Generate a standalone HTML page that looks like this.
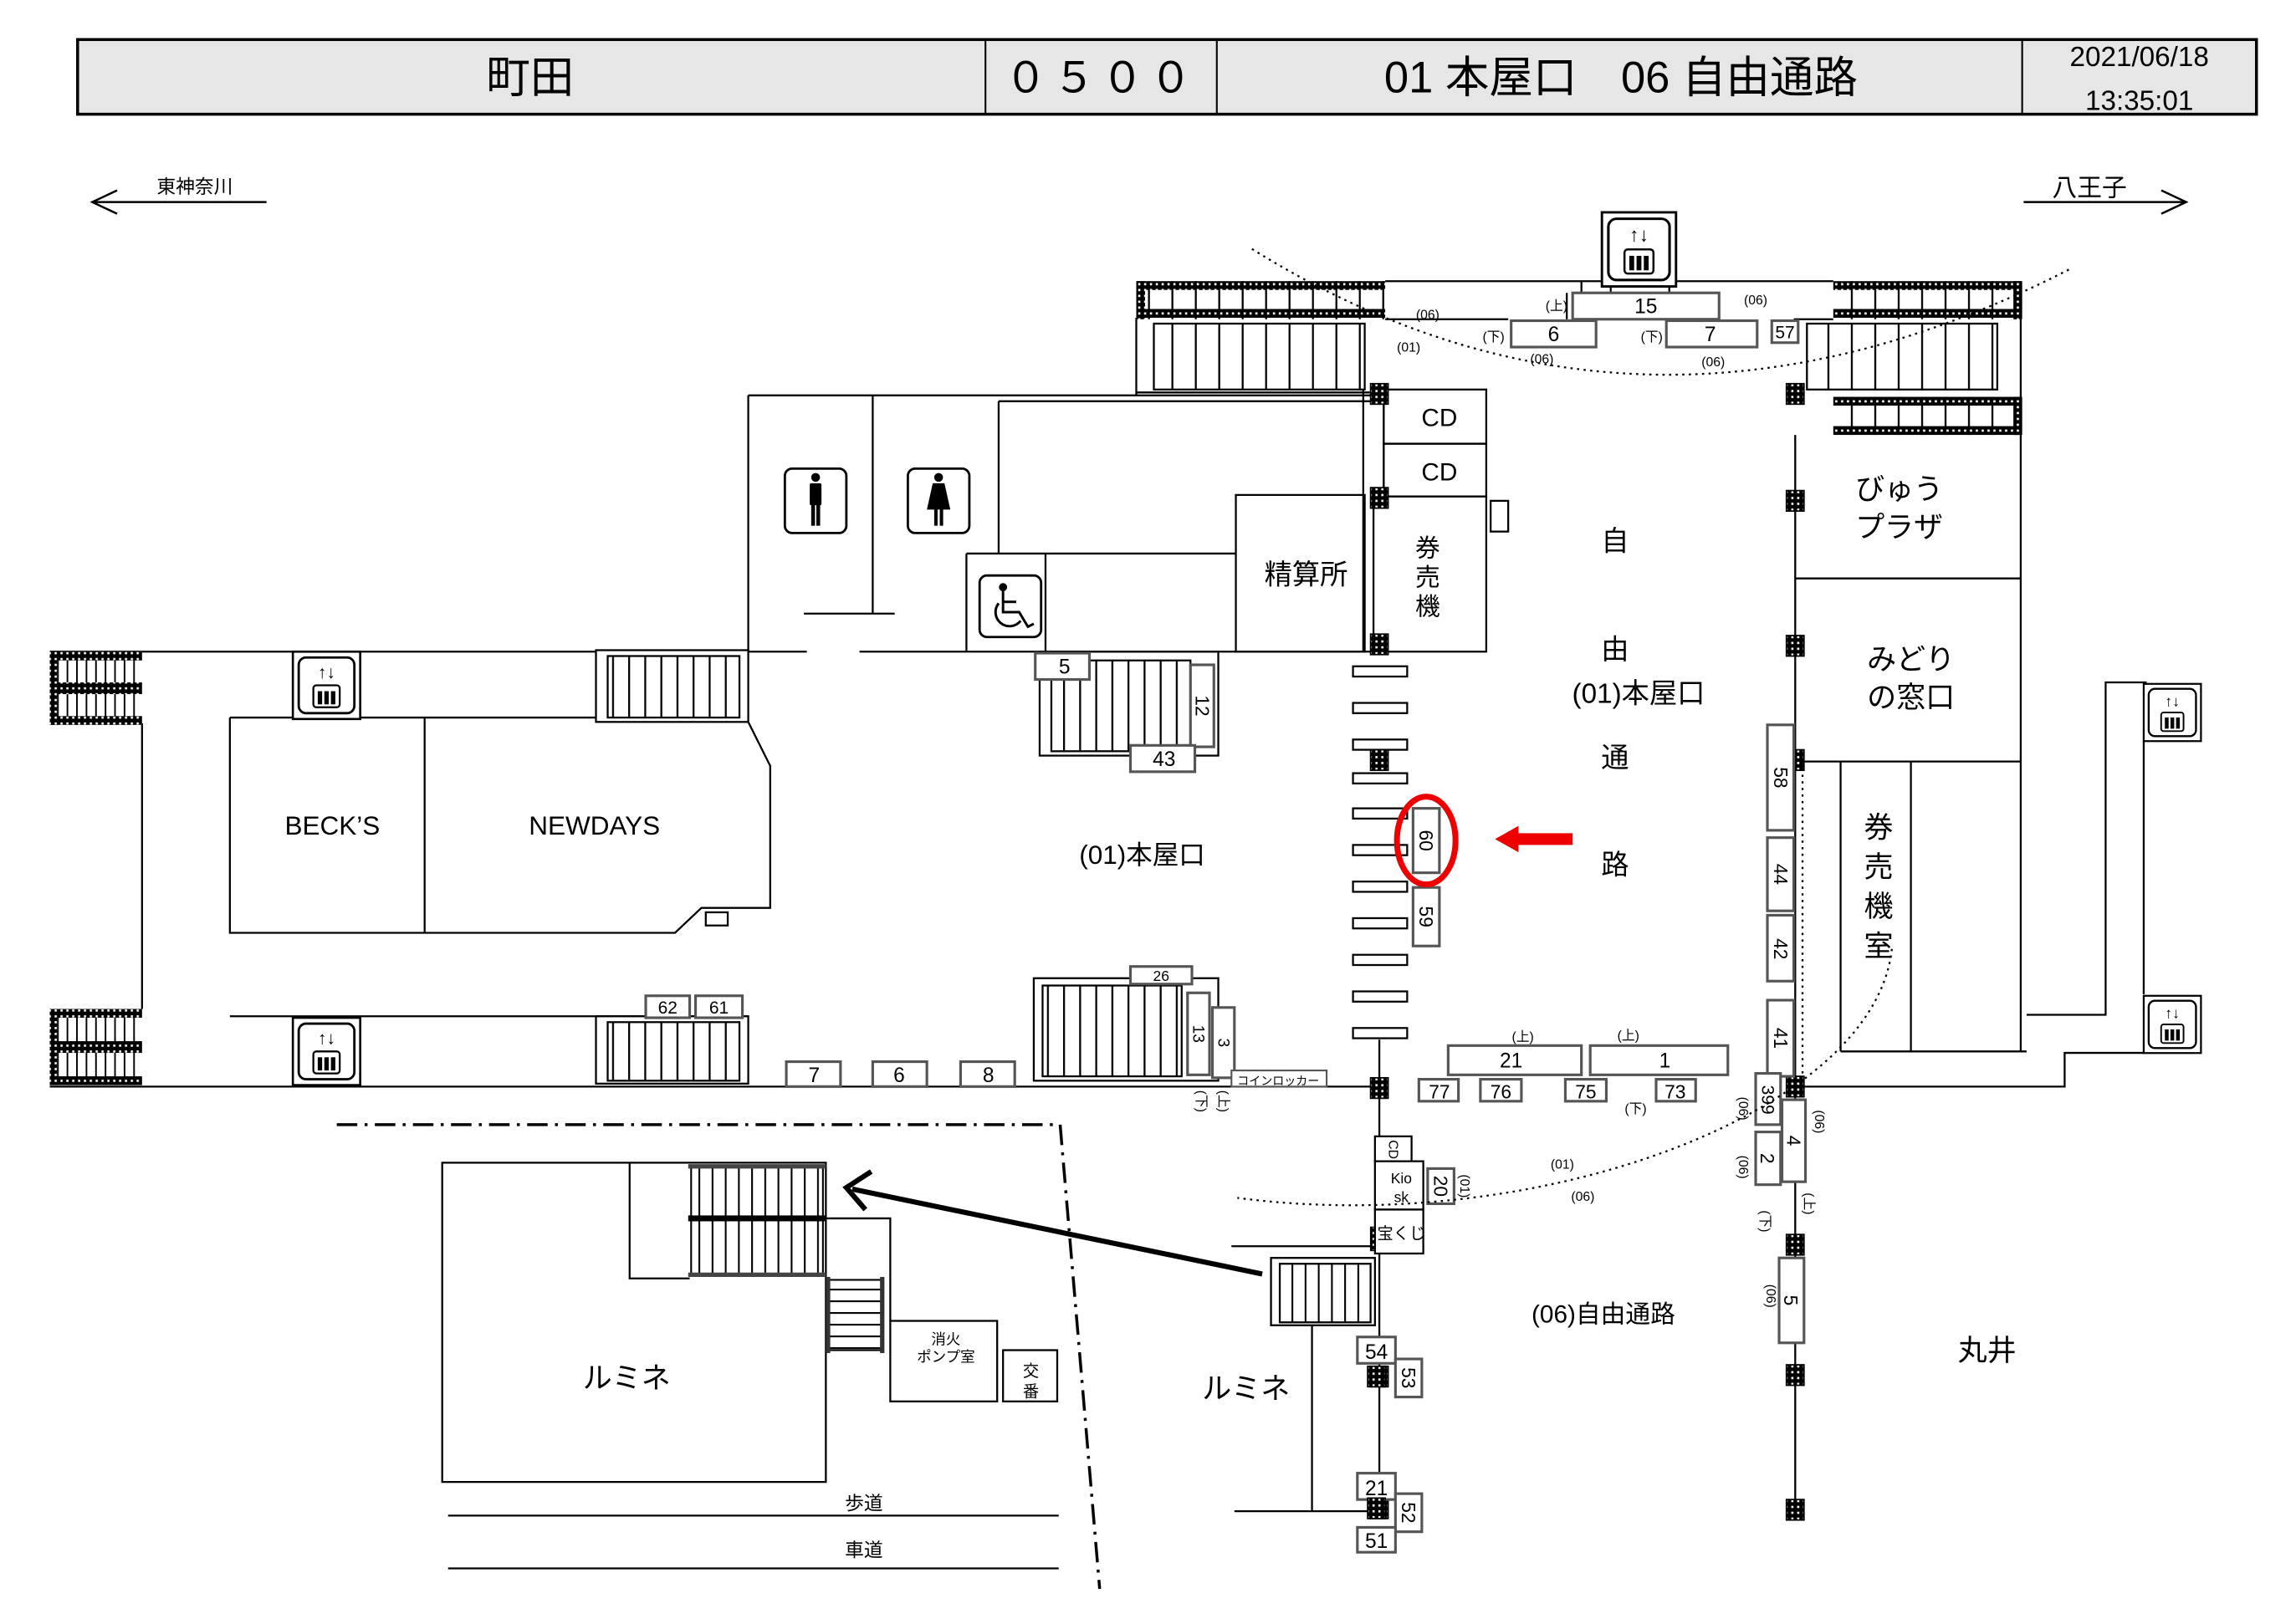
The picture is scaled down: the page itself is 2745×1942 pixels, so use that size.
<!DOCTYPE html>
<html><head><meta charset="utf-8">
<style>
html,body{margin:0;padding:0;background:#fff;}
svg{display:block;}
text{font-family:"Liberation Sans","Noto Sans CJK JP",sans-serif;fill:#000;}
</style></head>
<body>
<svg width="2745" height="1942" viewBox="0 0 1568 1109" preserveAspectRatio="none" xmlns="http://www.w3.org/2000/svg">
<defs>
<pattern id="dots" width="4" height="4" patternUnits="userSpaceOnUse"><rect width="4" height="4" fill="#000"/><rect x="1.3" y="1.3" width="1.5" height="1.5" fill="#fff"/></pattern>
<pattern id="v16" width="16" height="10" patternUnits="userSpaceOnUse"><rect width="16" height="10" fill="#fff"/><rect x="0" width="1.3" height="10" fill="#000"/></pattern>
<pattern id="v12" width="11" height="10" patternUnits="userSpaceOnUse"><rect width="11" height="10" fill="#fff"/><rect x="0" width="1.3" height="10" fill="#000"/></pattern>
<pattern id="v9" width="9" height="10" patternUnits="userSpaceOnUse"><rect width="9" height="10" fill="#fff"/><rect x="0" width="1.2" height="10" fill="#000"/></pattern>
<pattern id="v6" width="6.5" height="10" patternUnits="userSpaceOnUse"><rect width="6.5" height="10" fill="#fff"/><rect x="0" width="1.1" height="10" fill="#000"/></pattern>
<pattern id="h8" width="10" height="8" patternUnits="userSpaceOnUse"><rect width="10" height="8" fill="#fff"/><rect y="0" width="10" height="1.2" fill="#000"/></pattern>
<g id="elev">
<rect x="0" y="0" width="46" height="46" fill="#fff" stroke="#000" stroke-width="1.5"/>
<rect x="4" y="4" width="38" height="38" rx="5" fill="#fff" stroke="#000" stroke-width="1.6"/>
<text x="23" y="18" font-size="12" text-anchor="middle">↑↓</text>
<rect x="14" y="23" width="18" height="15" rx="2" fill="#fff" stroke="#000" stroke-width="1.3"/>
<rect x="17" y="27" width="3" height="9" fill="#000"/><rect x="21.5" y="27" width="3" height="9" fill="#000"/><rect x="26" y="27" width="3" height="9" fill="#000"/>
</g>
<rect id="pil" x="-6" y="-7" width="12" height="14" fill="url(#dots)" stroke="#000" stroke-width="1"/>
</defs>

<rect x="53" y="27" width="1488" height="51" fill="#e6e6e6" stroke="#000" stroke-width="2"/>
<line x1="673" y1="27" x2="673" y2="78" stroke="#000" stroke-width="1.2"/>
<line x1="831" y1="27" x2="831" y2="78" stroke="#000" stroke-width="1.2"/>
<line x1="1381" y1="27" x2="1381" y2="78" stroke="#000" stroke-width="1.2"/>
<text x="362" y="63" font-size="30" text-anchor="middle">町田</text>
<text x="752" y="63" font-size="29" text-anchor="middle" letter-spacing="4">０５００</text>
<text x="1107" y="63" font-size="30" text-anchor="middle">01 本屋口　06 自由通路</text>
<text x="1461" y="45" font-size="19" text-anchor="middle">2021/06/18</text>
<text x="1461" y="75" font-size="19" text-anchor="middle">13:35:01</text>

<g stroke="#000" stroke-width="1.4" fill="none">
<line x1="63" y1="138" x2="182" y2="138"/><polyline points="80,130 63,138 80,146"/>
<line x1="1382" y1="138" x2="1493" y2="138"/><polyline points="1476,130 1493,138 1476,146"/>
</g>
<text x="133" y="132" font-size="13" text-anchor="middle">東神奈川</text>
<text x="1427" y="134" font-size="17" text-anchor="middle">八王子</text>

<g stroke="#000" stroke-width="1.3" fill="none">
<line x1="946" y1="192" x2="1252" y2="192"/>
<line x1="776" y1="217" x2="776" y2="270"/>
<line x1="1380" y1="192" x2="1380" y2="718"/>
<line x1="1080" y1="192" x2="1080" y2="200"/>
<line x1="1100" y1="192" x2="1100" y2="200"/>
<line x1="1140" y1="192" x2="1140" y2="200"/>
<line x1="1070" y1="200" x2="1070" y2="218"/>
<line x1="946" y1="218" x2="1030" y2="218"/>
<line x1="1225" y1="218" x2="1252" y2="218"/>
<line x1="511" y1="270" x2="938" y2="270"/>
<line x1="776" y1="268" x2="938" y2="268"/>
<line x1="682" y1="274" x2="938" y2="274"/>
<line x1="511" y1="270" x2="511" y2="445"/>
<line x1="596" y1="270" x2="596" y2="419"/>
<line x1="549" y1="419" x2="611" y2="419"/>
<line x1="682" y1="274" x2="682" y2="378"/>
<line x1="660" y1="378" x2="844" y2="378"/>
<line x1="660" y1="378" x2="660" y2="445"/>
<line x1="714" y1="378" x2="714" y2="445"/>
<rect x="844" y="338" width="88" height="107"/>
<line x1="931" y1="266" x2="931" y2="445"/>
<line x1="945" y1="266" x2="945" y2="339"/>
<rect x="945" y="266" width="70" height="37"/>
<rect x="945" y="303" width="70" height="36"/>
<rect x="938" y="339" width="77" height="106"/>
<rect x="1018" y="342" width="12" height="21"/>
<line x1="34" y1="445" x2="551" y2="445"/>
<line x1="587" y1="445" x2="938" y2="445"/>
<line x1="97" y1="494" x2="97" y2="689"/>
<line x1="157" y1="490" x2="511" y2="490"/>
<line x1="34" y1="742" x2="942" y2="742"/>
<line x1="157" y1="694" x2="511" y2="694"/>
<polyline points="157,490 157,637 461,637 479,620 526,620 526,523 511,493"/>
<line x1="290" y1="490" x2="290" y2="637"/>
<rect x="482" y="623" width="15" height="9"/>
<line x1="1226" y1="297" x2="1226" y2="1035"/>
<line x1="1226" y1="395" x2="1380" y2="395"/>
<line x1="1226" y1="520" x2="1380" y2="520"/>
<line x1="1257" y1="520" x2="1257" y2="718"/>
<line x1="1305" y1="520" x2="1305" y2="718"/>
<line x1="1257" y1="718" x2="1384" y2="718"/>
<polyline points="1226,742 1410,742 1410,719 1466,719"/>
<polyline points="1384,693 1438,693 1438,466 1466,466"/>
<line x1="1464" y1="506" x2="1464" y2="679"/>
<line x1="942" y1="710" x2="942" y2="1035"/>
<line x1="841" y1="851" x2="939" y2="851"/>
<line x1="896" y1="905" x2="896" y2="1032"/>
<line x1="843" y1="1032" x2="940" y2="1032"/>
</g>

<g stroke="none">
<rect x="776" y="192" width="170" height="26" fill="url(#v16)"/>
<rect x="776" y="192" width="170" height="6" fill="url(#dots)"/>
<rect x="776" y="211" width="170" height="6" fill="url(#dots)"/>
<rect x="776" y="192" width="6" height="26" fill="url(#dots)"/>
<rect x="1252" y="192" width="128" height="26" fill="url(#v16)"/>
<rect x="1252" y="192" width="128" height="6" fill="url(#dots)"/>
<rect x="1252" y="211" width="128" height="6" fill="url(#dots)"/>
<rect x="1375" y="192" width="6" height="26" fill="url(#dots)"/>
<rect x="1252" y="271" width="128" height="26" fill="url(#v16)"/>
<rect x="1252" y="271" width="128" height="6" fill="url(#dots)"/>
<rect x="1252" y="291" width="128" height="6" fill="url(#dots)"/>
<rect x="1375" y="271" width="6" height="26" fill="url(#dots)"/>
<rect x="34" y="445" width="63" height="50" fill="url(#v6)"/>
<rect x="34" y="445" width="63" height="6" fill="url(#dots)"/>
<rect x="34" y="466" width="63" height="8" fill="url(#dots)"/>
<rect x="34" y="489" width="63" height="6" fill="url(#dots)"/>
<rect x="34" y="445" width="5" height="50" fill="url(#dots)"/>
<rect x="34" y="689" width="63" height="52" fill="url(#v6)"/>
<rect x="34" y="689" width="63" height="6" fill="url(#dots)"/>
<rect x="34" y="711" width="63" height="8" fill="url(#dots)"/>
<rect x="34" y="735" width="63" height="6" fill="url(#dots)"/>
<rect x="34" y="689" width="5" height="52" fill="url(#dots)"/>
</g>

<g stroke="#000" stroke-width="1.3">
<rect x="788" y="221" width="144" height="45" fill="url(#v16)"/>
<rect x="1234" y="221" width="130" height="45" fill="url(#v16)"/>
<rect x="407" y="444" width="104" height="49" fill="#fff"/>
<rect x="415" y="448" width="90" height="42" fill="url(#v12)"/>
<rect x="407" y="694" width="104" height="46" fill="#fff"/>
<rect x="415" y="698" width="90" height="40" fill="url(#v12)"/>
<rect x="710" y="445" width="122" height="71" fill="none"/>
<rect x="718" y="451" width="95" height="62" fill="url(#v12)"/>
<rect x="706" y="668" width="126" height="70" fill="none"/>
<rect x="712" y="673" width="95" height="62" fill="url(#v12)"/>
<rect x="868" y="859" width="71" height="46" fill="#fff"/>
<rect x="874" y="863" width="62" height="40" fill="url(#v9)"/>
</g>

<g fill="#fff" stroke="#000" stroke-width="1.3">
<rect x="924" y="455" width="37" height="7"/><rect x="924" y="480" width="37" height="7"/>
<rect x="924" y="505" width="37" height="7"/><rect x="924" y="528" width="37" height="7"/>
<rect x="924" y="552" width="37" height="7"/><rect x="924" y="577" width="37" height="7"/>
<rect x="924" y="602" width="37" height="7"/><rect x="924" y="627" width="37" height="7"/>
<rect x="924" y="652" width="37" height="7"/><rect x="924" y="677" width="37" height="7"/>
<rect x="924" y="702" width="37" height="7"/>
</g>

<use href="#pil" x="942" y="269"/><use href="#pil" x="942" y="340"/><use href="#pil" x="942" y="440"/>
<use href="#pil" x="942" y="519"/><use href="#pil" x="942" y="743"/><use href="#pil" x="942" y="940"/><use href="#pil" x="942" y="1030"/>
<use href="#pil" x="1226" y="269"/><use href="#pil" x="1226" y="342"/><use href="#pil" x="1226" y="441"/>
<use href="#pil" x="1226" y="519"/><use href="#pil" x="1226" y="742"/><use href="#pil" x="1226" y="850"/>
<use href="#pil" x="1226" y="939"/><use href="#pil" x="1226" y="1031"/>
<rect x="936" y="838" width="6" height="16" fill="url(#dots)" stroke="#000" stroke-width="0.8"/>

<use href="#elev" transform="translate(1094,145) scale(1.1)"/>
<use href="#elev" x="200" y="445"/>
<use href="#elev" x="200" y="695"/>
<use href="#elev" transform="translate(1464,467) scale(0.85)"/>
<use href="#elev" transform="translate(1464,680) scale(0.85)"/>

<g stroke="#000" stroke-width="1.6" fill="#fff">
<rect x="536" y="320" width="42" height="44" rx="5"/>
<rect x="620" y="320" width="42" height="44" rx="5"/>
<rect x="669" y="393" width="42" height="42" rx="5"/>
</g>
<g fill="#000">
<circle cx="557" cy="326" r="3"/><rect x="553" y="330" width="8" height="15" rx="1"/><rect x="554" y="344" width="2.6" height="15"/><rect x="557.5" y="344" width="2.6" height="15"/>
<circle cx="641" cy="326" r="3"/><polygon points="637,330 645,330 649,348 633,348"/><rect x="638" y="347" width="2.3" height="12"/><rect x="641.8" y="347" width="2.3" height="12"/>
<circle cx="685" cy="401" r="2.8"/>
</g>
<g fill="none" stroke="#000" stroke-width="1.7">
<polyline points="685,403 685,418 696,418 702,428 706,426"/>
<line x1="685" y1="411" x2="694" y2="411"/>
<path d="M682,412 A9,9 0 1 0 697,424"/>
</g>

<g fill="#fff" stroke="#555" stroke-width="1.8">
<rect x="1074" y="200" width="100" height="18"/>
<rect x="1032" y="219" width="58" height="18"/>
<rect x="1138" y="219" width="62" height="18"/>
<rect x="1210" y="219" width="18" height="15"/>
<rect x="707" y="446" width="37" height="18"/>
<rect x="813" y="454" width="16" height="56"/>
<rect x="772" y="509" width="44" height="18"/>
<rect x="772" y="660" width="42" height="12"/>
<rect x="811" y="678" width="15" height="56"/>
<rect x="828" y="688" width="15" height="48"/>
<rect x="841" y="731" width="65" height="11" stroke-width="1.2"/>
<rect x="441" y="680" width="30" height="15"/>
<rect x="475" y="680" width="32" height="15"/>
<rect x="537" y="725" width="37" height="17"/>
<rect x="596" y="725" width="37" height="17"/>
<rect x="656" y="725" width="37" height="17"/>
<rect x="965" y="552" width="18" height="44"/>
<rect x="965" y="606" width="18" height="40"/>
<rect x="1207" y="495" width="18" height="72"/>
<rect x="1207" y="572" width="18" height="50"/>
<rect x="1207" y="625" width="18" height="45"/>
<rect x="1207" y="683" width="18" height="52"/>
<rect x="989" y="714" width="91" height="20"/>
<rect x="1086" y="714" width="94" height="20"/>
<rect x="969" y="737" width="27" height="15"/>
<rect x="1011" y="737" width="28" height="15"/>
<rect x="1069" y="737" width="28" height="15"/>
<rect x="1131" y="737" width="27" height="15"/>
<rect x="1199" y="733" width="17" height="35"/>
<rect x="1217" y="751" width="16" height="56"/>
<rect x="1199" y="773" width="17" height="36"/>
<rect x="1215" y="859" width="17" height="58"/>
<rect x="975" y="798" width="18" height="24"/>
<rect x="927" y="913" width="26" height="18"/>
<rect x="953" y="928" width="18" height="26"/>
<rect x="927" y="1006" width="26" height="18"/>
<rect x="953" y="1020" width="18" height="26"/>
<rect x="927" y="1043" width="26" height="17"/>
</g>
<use href="#pil" x="940" y="940"/><use href="#pil" x="940" y="1030"/>
<g fill="#fff" stroke="#000" stroke-width="1.3">
<rect x="939" y="776" width="25" height="17"/>
<rect x="939" y="793" width="33" height="33"/>
<rect x="939" y="826" width="33" height="30"/>
</g>

<g font-size="14" text-anchor="middle">
<text x="1124" y="214">15</text><text x="1061" y="233">6</text><text x="1168" y="233">7</text>
<text x="1219" y="231" font-size="12">57</text>
<text x="727" y="460">5</text><text x="795" y="523">43</text>
<text x="793" y="670" font-size="10">26</text>
<text x="456" y="692" font-size="12">62</text><text x="491" y="692" font-size="12">61</text>
<text x="556" y="739">7</text><text x="614" y="739">6</text><text x="675" y="739">8</text>
<text x="1032" y="729">21</text><text x="1137" y="729">1</text>
<text x="983" y="750" font-size="13">77</text><text x="1025" y="750" font-size="13">76</text>
<text x="1083" y="750" font-size="13">75</text><text x="1144" y="750" font-size="13">73</text>
<text x="940" y="928">54</text><text x="940" y="1021">21</text><text x="940" y="1057">51</text>
<text x="957" y="808" font-size="10">Kio</text><text x="957" y="821" font-size="10">sk</text>
<text x="957" y="846" font-size="11">宝くじ</text>
<text x="873" y="741" font-size="8">コインロッカー</text>
</g>
<g font-size="13" text-anchor="middle" dominant-baseline="central">
<text transform="translate(821,482) rotate(90)">12</text>
<text transform="translate(818,706) rotate(90)" font-size="11">13</text>
<text transform="translate(835,712) rotate(90)" font-size="11">3</text>
<text transform="translate(974,574) rotate(90)">60</text>
<text transform="translate(974,626) rotate(90)">59</text>
<text transform="translate(1216,531) rotate(90)">58</text>
<text transform="translate(1216,597) rotate(90)">44</text>
<text transform="translate(1216,648) rotate(90)">42</text>
<text transform="translate(1216,709) rotate(90)">41</text>
<text transform="translate(1207,751) rotate(90)" font-size="12">399</text>
<text transform="translate(1225,779) rotate(90)">4</text>
<text transform="translate(1207,791) rotate(90)">2</text>
<text transform="translate(1223,888) rotate(90)">5</text>
<text transform="translate(984,810) rotate(90)">20</text>
<text transform="translate(962,941) rotate(90)">53</text>
<text transform="translate(962,1033) rotate(90)">52</text>
<text transform="translate(951,785) rotate(90)" font-size="9">CD</text>
<text transform="translate(820,752) rotate(90)" font-size="9">(下)</text>
<text transform="translate(835,752) rotate(90)" font-size="9">(上)</text>
<text transform="translate(1000,810) rotate(90)" font-size="9">(01)</text>
<text transform="translate(1190,757) rotate(90)" font-size="9">(06)</text>
<text transform="translate(1242,766) rotate(90)" font-size="9">(06)</text>
<text transform="translate(1190,797) rotate(90)" font-size="9">(06)</text>
<text transform="translate(1235,822) rotate(90)" font-size="9">(上)</text>
<text transform="translate(1205,834) rotate(90)" font-size="9">(下)</text>
<text transform="translate(1209,885) rotate(90)" font-size="9">(06)</text>
</g>
<g font-size="9" text-anchor="middle">
<text x="1063" y="212">(上)</text><text x="1020" y="233">(下)</text><text x="1128" y="233">(下)</text>
<text x="975" y="218">(06)</text><text x="962" y="240">(01)</text><text x="1053" y="248">(06)</text>
<text x="1170" y="250">(06)</text><text x="1199" y="208">(06)</text>
<text x="1040" y="711">(上)</text><text x="1112" y="710">(上)</text><text x="1117" y="760">(下)</text>
<text x="1067" y="798">(01)</text><text x="1081" y="820">(06)</text>
</g>

<g fill="none" stroke="#000" stroke-width="1.3" stroke-dasharray="1.5,3">
<path d="M855,170 Q1120,335 1415,183"/>
<path d="M1292,648 C1280,760 1050,845 845,818"/>
<line x1="1231" y1="520" x2="1231" y2="735"/>
</g>

<ellipse cx="974" cy="574" rx="20" ry="30" fill="none" stroke="#e00" stroke-width="4"/>
<rect x="1036" y="569" width="38" height="8" fill="#e00"/>
<polygon points="1021,573 1037,564 1037,582" fill="#e00"/>

<g stroke="#000" stroke-width="2" fill="none" stroke-dasharray="14,5,2,5">
<polyline points="230,768 724,768 751,1085"/>
</g>
<g stroke="#000" stroke-width="1.3" fill="none">
<rect x="302" y="794" width="262" height="218"/>
<polyline points="430,794 430,873 471,873"/>
<polyline points="563,832 608,832 608,902"/>
<rect x="608" y="902" width="73" height="55" fill="#fff"/>
<rect x="685" y="922" width="37" height="35" fill="#fff"/>
<line x1="306" y1="1035" x2="723" y2="1035"/>
<line x1="306" y1="1071" x2="723" y2="1071"/>
</g>
<rect x="472" y="797" width="90" height="73" fill="url(#v9)" stroke="#000" stroke-width="1.2"/>
<rect x="470" y="795" width="94" height="3" fill="#444"/>
<rect x="470" y="830" width="94" height="4" fill="#000"/>
<rect x="470" y="869" width="94" height="3" fill="#444"/>
<rect x="566" y="874" width="36" height="48" fill="url(#h8)" stroke="#000" stroke-width="1.2"/>
<rect x="564" y="872" width="3" height="52" fill="#333"/>
<rect x="601" y="872" width="3" height="52" fill="#333"/>

<g font-size="17" text-anchor="middle">
<text x="983" y="291">CD</text><text x="983" y="328">CD</text>
<text x="892" y="399" font-size="19">精算所</text>
<text x="975" y="380">券</text><text x="975" y="400">売</text><text x="975" y="420">機</text>
<text x="1103" y="376" font-size="19">自</text>
<text x="1103" y="450" font-size="19">由</text>
<text x="1119" y="480" font-size="19">(01)本屋口</text>
<text x="1103" y="524" font-size="19">通</text>
<text x="1103" y="597" font-size="19">路</text>
<text x="1297" y="341" font-size="20">びゅう</text><text x="1297" y="367" font-size="20">プラザ</text>
<text x="1305" y="457" font-size="20">みどり</text><text x="1305" y="483" font-size="20">の窓口</text>
<text x="1283" y="572" font-size="20">券</text><text x="1283" y="599" font-size="20">売</text>
<text x="1283" y="626" font-size="20">機</text><text x="1283" y="653" font-size="20">室</text>
<text x="227" y="570" font-size="18">BECK’S</text><text x="406" y="570" font-size="18">NEWDAYS</text>
<text x="780" y="590" font-size="18">(01)本屋口</text>
<text x="1095" y="903" font-size="17">(06)自由通路</text>
<text x="1357" y="929" font-size="20">丸井</text>
<text x="851" y="955" font-size="20">ルミネ</text>
<text x="428" y="948" font-size="20">ルミネ</text>
<text x="646" y="918" font-size="10">消火</text><text x="646" y="930" font-size="10">ポンプ室</text>
<text x="704" y="940" font-size="11">交</text><text x="704" y="954" font-size="11">番</text>
<text x="590" y="1031" font-size="13">歩道</text>
<text x="590" y="1063" font-size="13">車道</text>
</g>

<line x1="862" y1="870" x2="582" y2="812" stroke="#000" stroke-width="3.5"/>
<polyline points="595,800 578,811 591,826" fill="none" stroke="#000" stroke-width="3.5"/>
</svg>
</body></html>
